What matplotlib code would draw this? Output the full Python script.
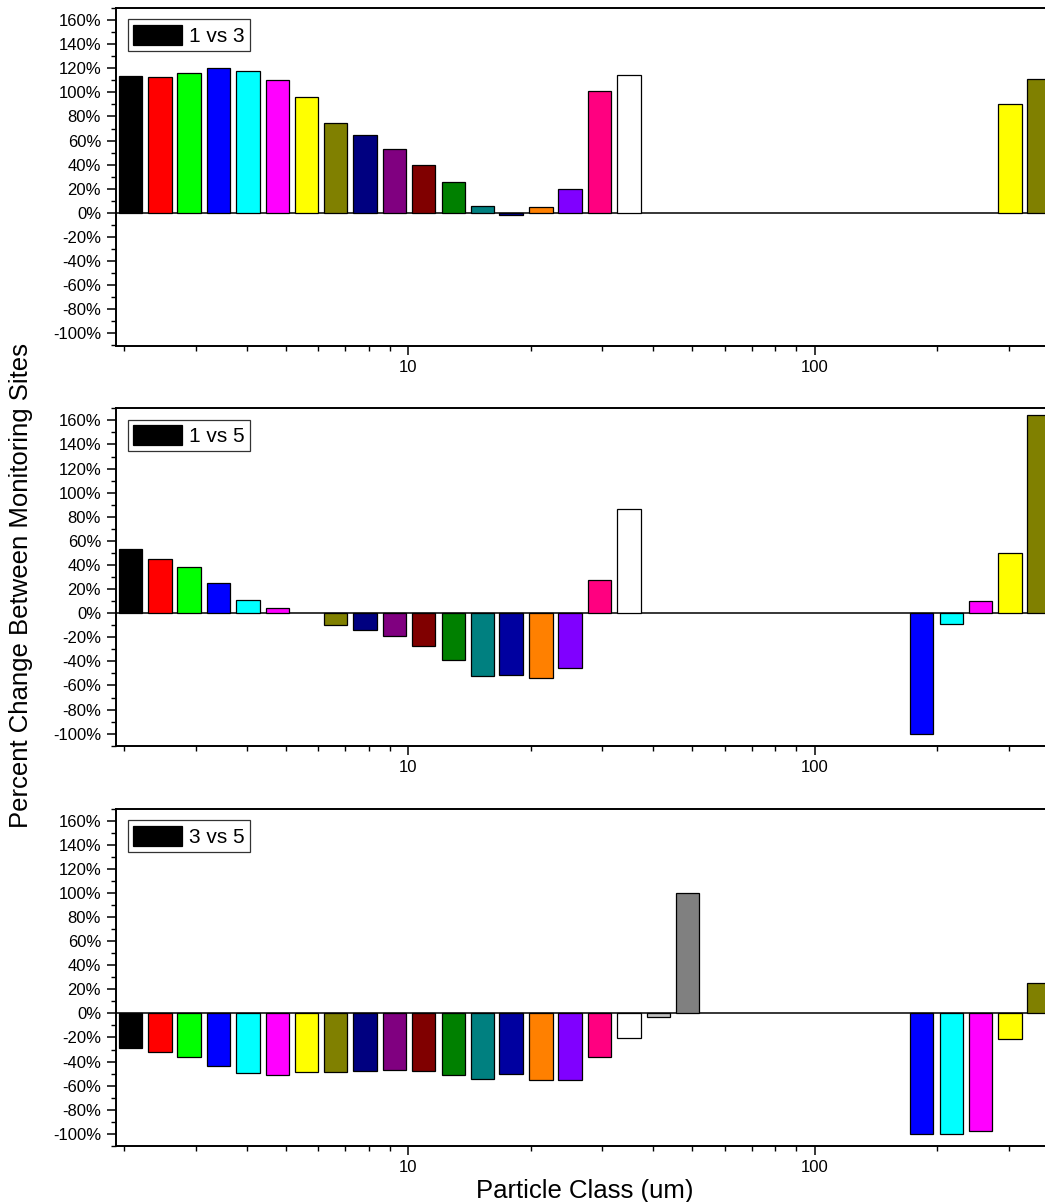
import numpy as np
import matplotlib
matplotlib.use("Agg")
import matplotlib.pyplot as plt
from matplotlib.ticker import (FixedLocator, FixedFormatter, LogLocator,
                               FuncFormatter, MultipleLocator, NullFormatter)

plt.rcParams['font.family'] = ['Liberation Sans', 'DejaVu Sans']
plt.rcParams['axes.unicode_minus'] = False

# ---------------- data ----------------
particle_class_um = [2.07, 2.45, 2.89, 3.41, 4.03, 4.76, 5.61, 6.63, 7.83, 9.24,
                     10.9, 12.9, 15.2, 17.9, 21.2, 25.0, 29.5, 34.9, 41.2, 48.6,
                     57.4, 67.7, 80.0, 94.4, 111, 132, 155, 183, 217, 256, 302, 356]

pct_1_vs_3 = [113.7, 112.6, 116.4, 120.0, 118.0, 110.3, 96.0, 74.5, 64.3, 53.0,
              39.7, 25.4, 5.5, -1.7, 5.2, 20.1, 101.5, 114.2,
              None, None, None, None, None, None, None, None, None, None, None, None,
              90.2, 110.9]

pct_1_vs_5 = [53.5, 45.2, 38.1, 25.4, 10.5, 4.1, None, -10.2, -13.8, -18.8,
              -27.0, -38.9, -52.1, -51.6, -53.5, -45.8, 27.3, 86.3,
              None, None, None, None, None, None, None, None, None,
              -100.1, -8.8, 10.2, 49.7, 164.1]

pct_3_vs_5 = [-29.0, -32.0, -36.4, -43.6, -49.9, -51.0, -49.1, -49.1, -48.0, -46.9,
              -47.5, -51.3, -54.3, -50.5, -55.5, -55.2, -36.4, -20.1, -3.0, 99.9,
              None, None, None, None, None, None, None,
              -100.4, -100.2, -97.4, -21.5, 25.1]

panel_labels = ["1 vs 3", "1 vs 5", "3 vs 5"]
y_ticks = [-100, -80, -60, -40, -20, 0, 20, 40, 60, 80, 100, 120, 140, 160]
x_ticks = [10, 100]
x_tick_labels = ["10", "100"]

# Origin default colour increment list
origin_colors = ['#000000', '#FF0000', '#00FF00', '#0000FF', '#00FFFF', '#FF00FF',
                 '#FFFF00', '#808000', '#000080', '#800080', '#800000', '#008000',
                 '#008080', '#0000A0', '#FF8000', '#8000FF', '#FF0080', '#FFFFFF',
                 '#C0C0C0', '#808080', '#FFFF80', '#80FFFF', '#FF80FF', '#404040']

# ---------------- layout ----------------
W, H = 1045, 1202
fig = plt.figure(figsize=(W / 100, H / 100), dpi=100)

left_px, right_px = 115.7, 1054.3
panels_px = [(8.0, 345.5), (408.3, 745.7), (809.0, 1145.7)]
dec_px, one_px = 406.5, 1.8          # pixels per decade, pixel of x=1
xmin = 10 ** ((left_px - one_px) / dec_px)
xmax = 10 ** ((right_px - one_px) / dec_px)
half_w = 0.0575 / 2                   # half bar width in decades

x = np.array(particle_class_um, float)
lefts = x * 10 ** (-half_w)
widths = x * 10 ** half_w - lefts
cols = np.array([origin_colors[i % len(origin_colors)] for i in range(len(x))])

for (top, bot), vals, lab in zip(panels_px, [pct_1_vs_3, pct_1_vs_5, pct_3_vs_5], panel_labels):
    axw, axh = right_px - left_px, bot - top
    ax = fig.add_axes([left_px / W, 1 - bot / H, axw / W, axh / H])
    ax.set_xscale('log')
    ax.set_xlim(xmin, xmax)
    ax.set_ylim(-110, 170)

    v = np.array([np.nan if a is None else a for a in vals], float)
    m = ~np.isnan(v)
    ax.axhline(0, color='black', lw=1.1, zorder=1)
    ax.bar(lefts[m], v[m], width=widths[m], align='edge', color=cols[m],
           edgecolor='black', linewidth=0.9, label=lab, zorder=2)

    ax.xaxis.set_major_locator(FixedLocator(x_ticks))
    ax.xaxis.set_major_formatter(FixedFormatter(x_tick_labels))
    ax.xaxis.set_minor_locator(LogLocator(base=10, subs=np.arange(2, 10)))
    ax.xaxis.set_minor_formatter(NullFormatter())
    ax.yaxis.set_major_locator(FixedLocator(y_ticks))
    ax.yaxis.set_major_formatter(FuncFormatter(lambda val, pos: f"{val:.0f}%"))
    ax.yaxis.set_minor_locator(MultipleLocator(10))

    ax.tick_params(which='major', direction='out', length=6.5, width=1.1,
                   labelsize=12, pad=4, colors='black')
    ax.tick_params(which='minor', direction='out', length=3.5, width=1.0)
    ax.tick_params(which='both', top=False, right=False)
    for s in ax.spines.values():
        s.set_linewidth(1.4)
        s.set_color('black')

    leg = ax.legend(loc='upper left', bbox_to_anchor=(12 / axw, 1 - 11.3 / axh),
                    borderaxespad=0, fontsize=15, handlelength=2.34, handleheight=1.12,
                    handletextpad=0.35, borderpad=0.25, fancybox=False,
                    framealpha=1, edgecolor='#333333')
    leg.get_frame().set_linewidth(0.9)

fig.text(9 / W, 1 - 585 / H, "Percent Change Between Monitoring Sites",
         rotation=90, ha='left', va='center', fontsize=18.5)
fig.text(585 / W, 1 - 1179 / H, "Particle Class (um)", ha='center', va='top',
         fontsize=18.5)

fig.savefig("out.png", dpi=100)
